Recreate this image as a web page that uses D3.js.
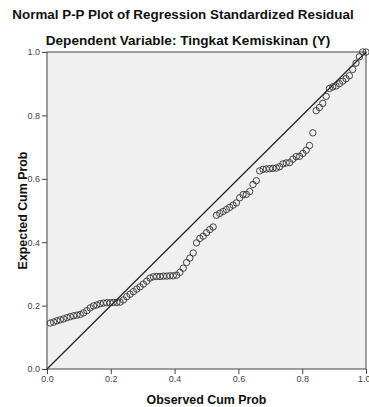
<!DOCTYPE html>
<html>
<head>
<meta charset="utf-8">
<script src="https://cdn.jsdelivr.net/npm/d3@7/dist/d3.min.js"></script>
<style>
  body { margin: 0; background: #fff; }
  svg { display: block; font-family: "Liberation Sans", Arial, sans-serif; }
</style>
</head>
<body>
<div id="chart"></div>
<script>
const titleLines = ['Normal P-P Plot of Regression Standardized Residual', 'Dependent Variable: Tingkat Kemiskinan (Y)'];
const xLabel = 'Observed Cum Prob';
const yLabel = 'Expected Cum Prob';
const ticks = [0, 0.2, 0.4, 0.6, 0.8, 1.0];

// observed cum prob (rank / n)
const observed = [
  .0104, .0208, .0313, .0417, .0521, .0625, .0729, .0833, .0938, .1042,
  .1146, .125, .1354, .1458, .1563, .1667, .1771, .1875, .1979, .2083,
  .2188, .2292, .2396, .25, .2604, .2708, .2813, .2917, .3021, .3125,
  .3229, .3333, .3438, .3542, .3646, .375, .3854, .3958, .4063, .4167,
  .4271, .4375, .4479, .4583, .4688, .4792, .4896, .5, .5104, .5208,
  .5313, .5417, .5521, .5625, .5729, .5833, .5938, .6042, .6146, .625,
  .6354, .6458, .6563, .6667, .6771, .6875, .6979, .7083, .7188, .7292,
  .7396, .75, .7604, .7708, .7813, .7917, .8021, .8125, .8229, .8333,
  .8438, .8542, .8646, .875, .8854, .8958, .9063, .9167, .9271, .9375,
  .9479, .9583, .9688, .9792, .9896, 1.0
];
// expected cum prob
const expected = [
  .145, .148, .152, .155, .158, .162, .165, .168, .170, .172,
  .177, .184, .193, .199, .202, .206, .208, .209, .209, .210,
  .210, .211, .218, .228, .236, .244, .252, .259, .268, .277,
  .287, .291, .292, .292, .293, .293, .294, .294, .296, .305,
  .318, .336, .350, .366, .398, .412, .419, .430, .440, .448,
  .485, .491, .497, .503, .510, .517, .524, .540, .550, .551,
  .560, .582, .594, .625, .630, .631, .632, .633, .634, .638,
  .647, .650, .651, .662, .670, .671, .680, .690, .705, .745,
  .815, .825, .838, .860, .885, .890, .893, .900, .908, .916,
  .925, .945, .965, .985, 1.0, 1.0
];

const width = 369, height = 407;
const margin = { top: 52, right: 3, bottom: 38, left: 47 };
const w = width - margin.left - margin.right;
const h = height - margin.top - margin.bottom;

const svg = d3.select('#chart').append('svg')
  .attr('width', width)
  .attr('height', height);

const x = d3.scaleLinear().domain([0, 1]).range([0, w]);
const y = d3.scaleLinear().domain([0, 1]).range([h, 0]);

const g = svg.append('g').attr('transform', `translate(${margin.left},${margin.top})`);

g.append('rect')
  .attr('width', w).attr('height', h)
  .attr('fill', '#f0f0f0');

// axes
const xAxis = g.append('g')
  .attr('transform', `translate(0,${h})`)
  .call(d3.axisBottom(x).tickValues(ticks).tickFormat(d3.format('.1f')).tickSize(5).tickPadding(2));
const yAxis = g.append('g')
  .call(d3.axisLeft(y).tickValues(ticks).tickFormat(d3.format('.1f')).tickSize(5).tickPadding(2));
[xAxis, yAxis].forEach(a => {
  a.select('.domain').remove();
  a.selectAll('line').attr('stroke', '#444');
  a.selectAll('text').attr('fill', '#444').attr('font-size', '9px')
    .attr('font-family', '"Liberation Sans", Arial, sans-serif');
});
// last x label sits half outside, as in the reference; keep it inside the page
xAxis.selectAll('.tick').filter(d => d === 1).select('text').attr('text-anchor', 'end').attr('dx', '4px');

// frame
g.append('rect')
  .attr('width', w).attr('height', h)
  .attr('fill', 'none')
  .attr('stroke', '#444')
  .attr('stroke-width', 1);

// reference line
g.append('line')
  .attr('x1', x(0)).attr('y1', y(0))
  .attr('x2', x(1)).attr('y2', y(1))
  .attr('stroke', '#222')
  .attr('stroke-width', 1.2);

// points
g.selectAll('.pt')
  .data(observed.map((o, i) => ({ o, e: expected[i] })))
  .enter()
  .append('circle')
  .attr('class', 'pt')
  .attr('cx', d => x(d.o))
  .attr('cy', d => y(d.e))
  .attr('r', 3.2)
  .attr('fill', 'none')
  .attr('stroke', '#333')
  .attr('stroke-width', 0.9);

// titles
svg.append('text')
  .attr('x', 183).attr('y', 19)
  .attr('text-anchor', 'middle')
  .attr('font-size', '13.4px').attr('font-weight', 'bold').attr('fill', '#111')
  .text(titleLines[0]);
svg.append('text')
  .attr('x', 188).attr('y', 45)
  .attr('text-anchor', 'middle')
  .attr('font-size', '13.6px').attr('font-weight', 'bold').attr('fill', '#111')
  .text(titleLines[1]);

svg.append('text')
  .attr('x', margin.left + w / 2).attr('y', 404)
  .attr('text-anchor', 'middle')
  .attr('font-size', '12.4px').attr('font-weight', 'bold').attr('fill', '#111')
  .text(xLabel);
svg.append('text')
  .attr('transform', `translate(27,${margin.top + h / 2}) rotate(-90)`)
  .attr('text-anchor', 'middle')
  .attr('font-size', '12.4px').attr('font-weight', 'bold').attr('fill', '#111')
  .text(yLabel);
</script>
</body>
</html>
